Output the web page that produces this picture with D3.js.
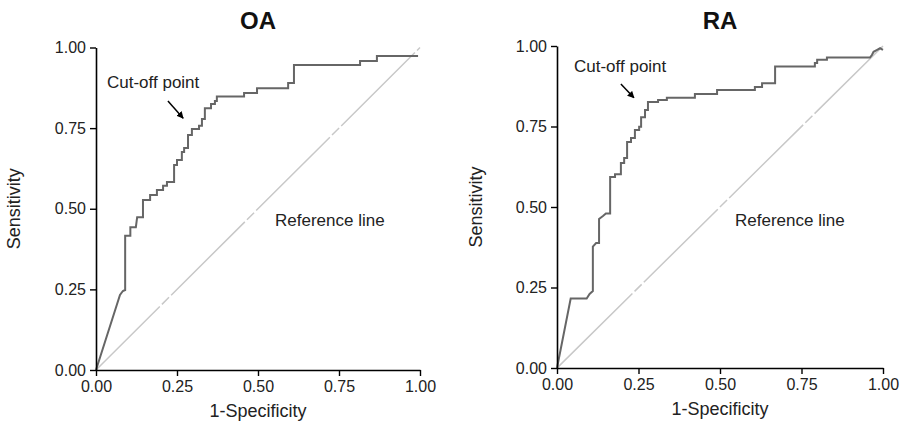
<!DOCTYPE html>
<html>
<head>
<meta charset="utf-8">
<script src="https://cdn.jsdelivr.net/npm/d3@7"></script>
<style>
  html, body { margin: 0; padding: 0; background: #fff; }
  svg { display: block; font-family: "Liberation Sans", Arial, sans-serif; }
</style>
</head>
<body>
<svg id="chart" width="902" height="437"></svg>
<script>
// ---- data ----
const titles = ["OA", "RA"];
const xLabel = "1-Specificity";
const yLabel = "Sensitivity";
const tickValues = [0, 0.25, 0.5, 0.75, 1];
const cutoffLabel = "Cut-off point";
const refLabel = "Reference line";

const oaFpr = [0,0.074,0.083,0.090,0.090,0.106,0.106,0.123,0.127,0.145,0.145,0.167,0.167,0.188,0.188,0.207,0.207,0.219,0.219,0.231,0.241,0.241,0.250,0.250,0.265,0.265,0.272,0.272,0.284,0.284,0.296,0.296,0.318,0.318,0.327,0.327,0.336,0.336,0.355,0.355,0.367,0.367,0.373,0.373,0.457,0.457,0.497,0.497,0.593,0.593,0.611,0.611,0.815,0.815,0.867,0.867,0.994];
const oaTpr = [0,0.233,0.245,0.248,0.416,0.416,0.443,0.443,0.474,0.474,0.527,0.527,0.543,0.543,0.558,0.558,0.571,0.571,0.583,0.583,0.583,0.636,0.636,0.651,0.651,0.676,0.676,0.688,0.688,0.729,0.729,0.747,0.747,0.757,0.757,0.778,0.778,0.812,0.812,0.825,0.825,0.834,0.834,0.848,0.848,0.859,0.859,0.874,0.874,0.890,0.890,0.946,0.946,0.958,0.958,0.974,0.974];

const raFpr = [0,0.042,0.091,0.100,0.110,0.110,0.120,0.129,0.129,0.141,0.150,0.163,0.163,0.178,0.178,0.196,0.196,0.206,0.206,0.215,0.215,0.227,0.227,0.239,0.239,0.252,0.252,0.258,0.258,0.270,0.270,0.279,0.279,0.310,0.310,0.337,0.337,0.423,0.423,0.491,0.491,0.607,0.607,0.629,0.629,0.669,0.669,0.791,0.791,0.798,0.798,0.828,0.828,0.960,0.966,0.971,0.982,0.991,1.0];
const raTpr = [0,0.216,0.216,0.230,0.239,0.377,0.388,0.388,0.463,0.472,0.480,0.480,0.593,0.593,0.602,0.602,0.637,0.637,0.652,0.652,0.702,0.702,0.714,0.714,0.739,0.739,0.749,0.749,0.779,0.779,0.801,0.801,0.826,0.826,0.832,0.832,0.839,0.839,0.851,0.851,0.863,0.863,0.873,0.873,0.884,0.884,0.936,0.936,0.947,0.947,0.957,0.957,0.964,0.964,0.972,0.982,0.988,0.993,0.988];

// cut-off arrow (tail -> head) in data units
const oaArrow = [[0.222, 0.834], [0.269, 0.781]];
const raArrow = [[0.196, 0.882], [0.236, 0.839]];

// ---- layout ----
const panels = [
  { title: titles[0], fpr: oaFpr, tpr: oaTpr, arrow: oaArrow,
    left: 96, top: 47.5, w: 324, h: 322.5, dashOffset: 14,
    cut: [11, 40], ref: [179, 178], yTitleX: -76 },
  { title: titles[1], fpr: raFpr, tpr: raTpr, arrow: raArrow,
    left: 557, top: 46, w: 326, h: 322, dashOffset: -2,
    cut: [17, 26], ref: [178, 180], yTitleX: -75 }
];

const svg = d3.select("#chart");
svg.append("defs").append("marker")
  .attr("id", "arrowhead").attr("viewBox", "0 0 10 10")
  .attr("refX", 9).attr("refY", 5)
  .attr("markerWidth", 7).attr("markerHeight", 7)
  .attr("markerUnits", "userSpaceOnUse")
  .attr("orient", "auto")
  .append("path").attr("d", "M0,0 L10,5 L0,10 z").attr("fill", "#000");

panels.forEach(p => {
  const x = d3.scaleLinear().domain([0, 1]).range([0, p.w]);
  const y = d3.scaleLinear().domain([0, 1]).range([p.h, 0]);
  const g = svg.append("g").attr("transform", `translate(${p.left},${p.top})`);

  // reference line
  g.append("line")
    .attr("x1", x(0)).attr("y1", y(0)).attr("x2", x(1)).attr("y2", y(1))
    .attr("stroke", "#c8c8c8").attr("stroke-width", 1.5)
    .attr("stroke-dasharray", "104,3,10,3")
    .attr("stroke-dashoffset", p.dashOffset);

  // ROC curve
  const pts = p.fpr.map((v, i) => [v, p.tpr[i]]);
  g.append("path")
    .datum(pts)
    .attr("fill", "none")
    .attr("stroke", "#666")
    .attr("stroke-width", 2)
    .attr("stroke-linejoin", "miter")
    .attr("d", d3.line().x(d => x(d[0])).y(d => y(d[1])));

  // axes
  const fmt = d3.format(".2f");
  const xa = g.append("g").attr("transform", `translate(0,${p.h})`)
    .call(d3.axisBottom(x).tickValues(tickValues).tickFormat(fmt).tickSize(6).tickSizeOuter(0).tickPadding(5));
  const ya = g.append("g")
    .call(d3.axisLeft(y).tickValues(tickValues).tickFormat(fmt).tickSize(6).tickSizeOuter(0).tickPadding(4));
  [xa, ya].forEach(a => {
    a.select(".domain").attr("stroke", "#000").attr("stroke-width", 1.6);
    a.selectAll(".tick line").attr("stroke", "#000").attr("stroke-width", 1.4);
    a.selectAll(".tick text").attr("fill", "#222")
      .style("font-family", "'Liberation Sans', Arial, sans-serif").style("font-size", "16px");
  });

  // title
  g.append("text").attr("x", p.w / 2).attr("y", 29 - p.top)
    .attr("text-anchor", "middle").attr("font-weight", "bold")
    .attr("font-size", 24).attr("fill", "#111").text(p.title);

  // axis titles
  g.append("text").attr("x", p.w / 2).attr("y", p.h + 47)
    .attr("text-anchor", "middle").attr("font-size", 18).attr("fill", "#222").text(xLabel);
  g.append("text")
    .attr("transform", `translate(${p.yTitleX},${p.h / 2}) rotate(-90)`)
    .attr("text-anchor", "middle").attr("font-size", 18).attr("fill", "#222").text(yLabel);

  // annotations
  g.append("text").attr("x", p.cut[0]).attr("y", p.cut[1])
    .attr("font-size", 17).attr("fill", "#222").text(cutoffLabel);
  g.append("line")
    .attr("x1", x(p.arrow[0][0])).attr("y1", y(p.arrow[0][1]))
    .attr("x2", x(p.arrow[1][0])).attr("y2", y(p.arrow[1][1]))
    .attr("stroke", "#000").attr("stroke-width", 1.5)
    .attr("marker-end", "url(#arrowhead)");
  g.append("text").attr("x", p.ref[0]).attr("y", p.ref[1])
    .attr("font-size", 17).attr("fill", "#222").text(refLabel);
});
</script>
</body>
</html>
